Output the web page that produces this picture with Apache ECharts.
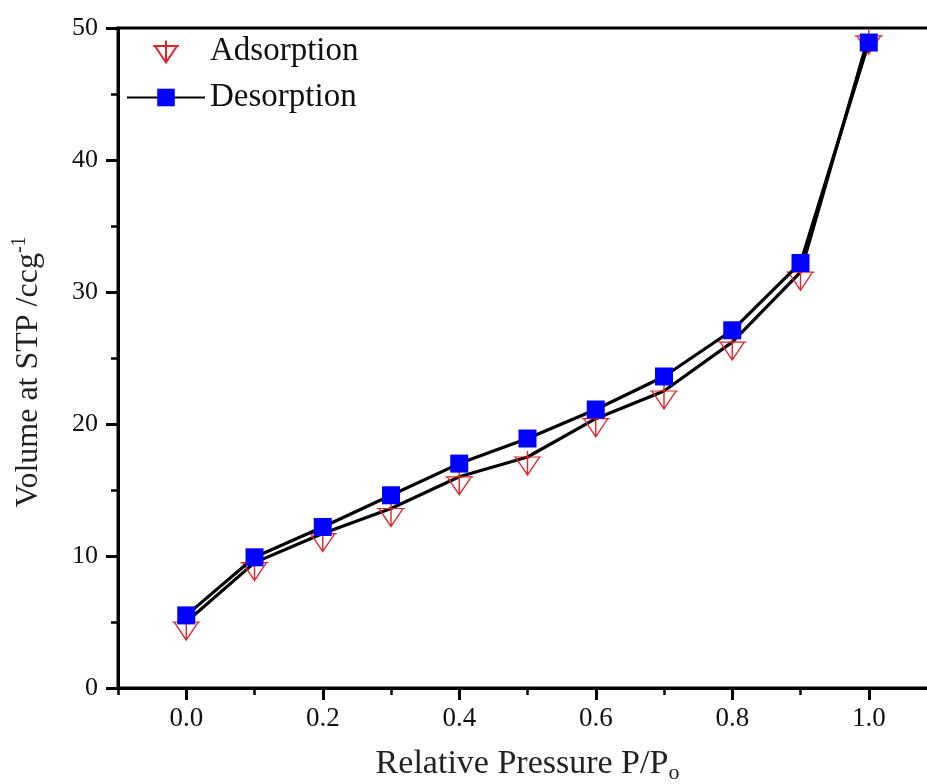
<!DOCTYPE html>
<html>
<head>
<meta charset="utf-8">
<script src="https://cdn.jsdelivr.net/npm/echarts@6/dist/echarts.min.js"></script>
<style>
  html, body { margin: 0; padding: 0; background: #fff; }
  #chart { width: 927px; height: 784px; }
</style>
</head>
<body>
<div id="chart"></div>
<script>
  // relative pressure points
  var pressure = [0.0, 0.1, 0.2, 0.3, 0.4, 0.5, 0.6, 0.7, 0.8, 0.9, 1.0];
  var adsorption = [5.0, 9.5, 11.7, 13.6, 16.0, 17.5, 20.4, 22.5, 26.2, 31.5, 49.4];
  var desorption = [5.5, 9.9, 12.2, 14.6, 17.0, 18.9, 21.1, 23.6, 27.1, 32.2, 48.9];
  var xMajorTicks = [0.0, 0.2, 0.4, 0.6, 0.8, 1.0];
  var xMinorTicks = [-0.1, 0.1, 0.3, 0.5, 0.7, 0.9, 1.1];

  function pairs(xs, ys) {
    return xs.map(function (x, i) { return [x, ys[i]]; });
  }

  var serif = 'Liberation Serif';
  // down triangle with a cross, like the origin symbol
  var triSymbol = 'path://M14,0L14,24M0,6L28,6M2,6L26,6L14,24Z';

  var chart = echarts.init(document.getElementById('chart'));
  var option = {
    backgroundColor: '#fff',
    animation: false,
    textStyle: { fontFamily: serif },
    grid: {
      left: 118, top: 28, width: 819, bottom: 96,
      outerBoundsMode: 'none', containLabel: false,
      show: true, borderColor: '#000', borderWidth: 3, backgroundColor: 'transparent'
    },
    legend: {
      orient: 'vertical',
      left: 121, top: 30,
      itemWidth: 78, itemHeight: 22, itemGap: 13,
      textStyle: { fontFamily: serif, fontSize: 33, color: '#111' },
      data: [
        { name: 'Adsorption', icon: triSymbol },
        { name: 'Desorption' }
      ]
    },
    xAxis: [{
      type: 'value',
      min: -0.1, max: 1.1,
      position: 'bottom',
      splitLine: { show: false },
      axisLine: { onZero: false, lineStyle: { color: '#000', width: 3 } },
      axisTick: { length: 12, lineStyle: { width: 3, color: '#000' }, customValues: xMajorTicks },
      axisLabel: {
        customValues: xMajorTicks,
        fontFamily: serif, fontSize: 27, color: '#111', margin: 17,
        formatter: function (v) { return v.toFixed(1); }
      },
      name: '{a|Relative Pressure P/P}{b|o}',
      nameLocation: 'middle',
      nameGap: 56,
      nameTextStyle: {
        rich: {
          a: { fontFamily: serif, fontSize: 34, color: '#222' },
          b: { fontFamily: serif, fontSize: 22, color: '#222', padding: [18, 0, 0, 0] }
        }
      }
    }, {
      type: 'value',
      min: -0.1, max: 1.1,
      position: 'bottom',
      splitLine: { show: false },
      axisLine: { show: false, onZero: false },
      axisTick: { length: 7, lineStyle: { width: 2.5, color: '#000' }, customValues: xMinorTicks },
      axisLabel: { show: false }
    }],
    yAxis: {
      type: 'value',
      min: 0, max: 50, interval: 10,
      splitLine: { show: false },
      axisLine: { onZero: false, lineStyle: { color: '#000', width: 3 } },
      axisTick: { length: 12, lineStyle: { width: 3, color: '#000' } },
      minorTick: { show: true, splitNumber: 2, length: 7, lineStyle: { width: 2.5, color: '#000' } },
      axisLabel: { fontFamily: serif, fontSize: 26, color: '#111', margin: 20 },
      name: '{a|Volume at STP /ccg}{b|-1}',
      nameLocation: 'middle',
      nameGap: 70,
      nameTextStyle: {
        padding: [0, 28, 0, 0],
        rich: {
          a: { fontFamily: serif, fontSize: 32, color: '#222' },
          b: { fontFamily: serif, fontSize: 20, color: '#222', padding: [0, 0, 18, 0] }
        }
      }
    },
    series: [{
      name: 'Adsorption',
      type: 'line',
      data: pairs(pressure, adsorption),
      symbol: triSymbol,
      symbolSize: [28, 24],
      symbolOffset: [0, 6],
      itemStyle: { color: 'rgba(0,0,0,0)', borderColor: '#e0262b', borderWidth: 1.3 },
      lineStyle: { color: '#000', width: 3.2 },
      z: 2
    }, {
      name: 'Desorption',
      type: 'line',
      data: pairs(pressure, desorption),
      symbol: 'rect',
      symbolSize: 18,
      itemStyle: { color: '#0000ff', borderWidth: 0 },
      lineStyle: { color: '#000', width: 3.2 },
      z: 3
    }]
  };
  chart.setOption(option);
</script>
</body>
</html>
